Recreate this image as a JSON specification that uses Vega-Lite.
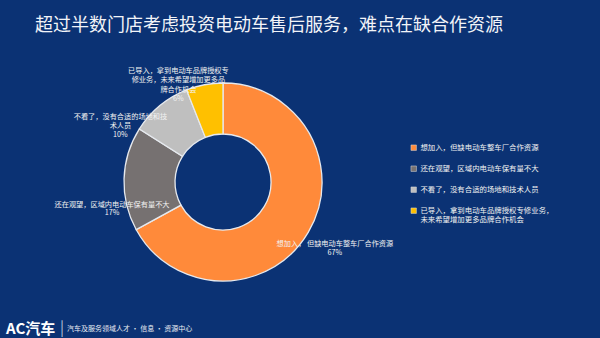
{
  "$schema": "https://vega.github.io/schema/vega-lite/v6.json",
  "autosize": {"type": "none"},
  "width": 446,
  "height": 264,
  "padding": {"left": 0, "top": 50, "right": 154, "bottom": 24},
  "background": "#0B3274",
  "title": {
    "text": "超过半数门店考虑投资电动车售后服务，难点在缺合作资源",
    "anchor": "start",
    "frame": "group",
    "dx": 35,
    "offset": 11,
    "font": "Noto Sans CJK SC",
    "fontSize": 18,
    "fontWeight": "normal",
    "color": "#F2F4F8"
  },
  "config": {
    "view": {"stroke": null},
    "font": "Noto Sans CJK SC"
  },
  "data": {
    "values": [
      {"rank": 1, "category": "想加入，但缺电动车整车厂合作资源", "value": 67, "plabel": "想加入，  但缺电动车整车厂合作资源\n67%"},
      {"rank": 2, "category": "还在观望，区域内电动车保有量不大", "value": 17, "plabel": "还在观望，区域内电动车保有量不大\n17%"},
      {"rank": 3, "category": "不看了，没有合适的场地和技术人员", "value": 10, "plabel": "不看了，没有合适的场地和技\n术人员\n10%"},
      {"rank": 4, "category": "已导入，拿到电动车品牌授权专修业务，\n未来希望增加更多品牌合作机会", "value": 6, "plabel": "已导入，拿到电动车品牌授权专\n修业务，未来希望增加更多品\n牌合作机会\n6%"}
    ]
  },
  "encoding": {
    "theta": {"field": "value", "type": "quantitative", "stack": true},
    "order": {"field": "rank", "type": "quantitative"}
  },
  "layer": [
    {
      "mark": {"type": "arc", "outerRadius": 99, "innerRadius": 48, "stroke": "#E6E9EE", "strokeWidth": 1.3},
      "encoding": {
        "color": {
          "field": "category",
          "type": "nominal",
          "sort": null,
          "scale": {
            "domain": [
              "想加入，但缺电动车整车厂合作资源",
              "还在观望，区域内电动车保有量不大",
              "不看了，没有合适的场地和技术人员",
              "已导入，拿到电动车品牌授权专修业务，\n未来希望增加更多品牌合作机会"
            ],
            "range": ["#FF8A3A", "#767171", "#BFBFBF", "#FFC000"]
          },
          "legend": {
            "orient": "none",
            "legendX": 410,
            "legendY": 94,
            "title": null,
            "padding": 0,
            "symbolType": "square",
            "symbolSize": 30,
            "symbolStrokeColor": "#DDDDDD",
            "symbolStrokeWidth": 0.5,
            "labelFont": "Noto Sans CJK SC",
            "labelFontSize": 7.4,
            "labelColor": "#F2F2F2",
            "labelLimit": 220,
            "labelOffset": 3,
            "rowPadding": 12,
            "labelExpr": "split(datum.label, '\\n')"
          }
        }
      }
    },
    {
      "mark": {"type": "text", "radius": 130, "dx": 0, "dy": -4, "fontSize": 7.2, "lineBreak": "\n", "lineHeight": 8.5, "fill": "#F2F2F2", "align": "center", "baseline": "middle"},
      "encoding": {
        "text": {"field": "plabel"},
        "opacity": {"condition": {"test": "datum.rank == 1", "value": 1}, "value": 0}
      }
    },
    {
      "mark": {"type": "text", "radius": 111, "dx": 0, "dy": 26, "fontSize": 7.2, "lineBreak": "\n", "lineHeight": 8.5, "fill": "#F2F2F2", "align": "center", "baseline": "middle"},
      "encoding": {
        "text": {"field": "plabel"},
        "opacity": {"condition": {"test": "datum.rank == 2", "value": 1}, "value": 0}
      }
    },
    {
      "mark": {"type": "text", "radius": 117, "dx": -28, "dy": 25, "fontSize": 7.2, "lineBreak": "\n", "lineHeight": 9, "fill": "#F2F2F2", "align": "center", "baseline": "middle"},
      "encoding": {
        "text": {"field": "plabel"},
        "opacity": {"condition": {"test": "datum.rank == 3", "value": 1}, "value": 0}
      }
    },
    {
      "mark": {"type": "text", "radius": 110, "dx": -24, "dy": -3, "fontSize": 7.2, "lineBreak": "\n", "lineHeight": 9.3, "fill": "#F2F2F2", "align": "center", "baseline": "middle"},
      "encoding": {
        "text": {"field": "plabel"},
        "opacity": {"condition": {"test": "datum.rank == 4", "value": 1}, "value": 0}
      }
    },
    {
      "data": {"values": [{"t": "AC汽车"}]},
      "mark": {"type": "text", "align": "left", "baseline": "middle", "dx": 6, "dy": 15, "fontSize": 15, "fontWeight": "bold", "fill": "#FFFFFF"},
      "encoding": {
        "theta": null,
        "order": null,
        "x": {"datum": 0, "type": "quantitative", "scale": {"domain": [0, 1]}, "axis": null},
        "y": {"datum": 0, "type": "quantitative", "scale": {"domain": [0, 1]}, "axis": null},
        "text": {"field": "t"}
      }
    },
    {
      "data": {"values": [{"t": "|"}]},
      "mark": {"type": "text", "align": "left", "baseline": "middle", "dx": 60, "dy": 14, "fontSize": 15, "fill": "#AFC0DA"},
      "encoding": {
        "theta": null,
        "order": null,
        "x": {"datum": 0, "type": "quantitative", "scale": {"domain": [0, 1]}, "axis": null},
        "y": {"datum": 0, "type": "quantitative", "scale": {"domain": [0, 1]}, "axis": null},
        "text": {"field": "t"}
      }
    },
    {
      "data": {"values": [{"t": "汽车及服务领域人才 • 信息 • 资源中心"}]},
      "mark": {"type": "text", "align": "left", "baseline": "middle", "dx": 67, "dy": 15, "fontSize": 7, "fill": "#E8ECF2"},
      "encoding": {
        "theta": null,
        "order": null,
        "x": {"datum": 0, "type": "quantitative", "scale": {"domain": [0, 1]}, "axis": null},
        "y": {"datum": 0, "type": "quantitative", "scale": {"domain": [0, 1]}, "axis": null},
        "text": {"field": "t"}
      }
    }
  ]
}
